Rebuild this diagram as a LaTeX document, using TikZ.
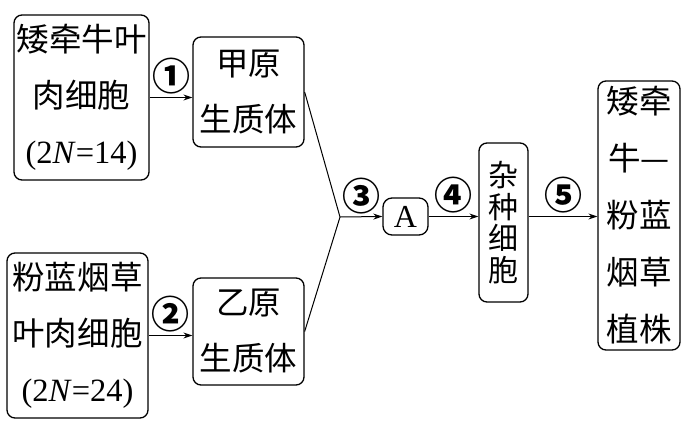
\documentclass[tikz,border=0pt]{standalone}
\usepackage{fontspec}
\setmainfont{Noto Sans CJK SC}
\newfontfamily\latinfont{Liberation Serif}
\usetikzlibrary{arrows.meta, positioning}
\tikzset{
    cellbox/.style={
        rectangle,
        draw=black,
        line width=1.3pt,
        rounded corners=8pt,
        align=center,
        inner sep=0pt,
        fill=white,
        font=\fontsize{32.5}{56}\selectfont
    },
    arrowline/.style={
        draw=black,
        line width=1pt,
        -{Stealth[length=9pt,width=6pt]}
    },
    plainline/.style={
        draw=black,
        line width=1pt
    },
    steplabel/.style={
        font=\fontsize{38}{38}\selectfont\bfseries,
        inner sep=2.5pt
    }
}
\newcommand{\tnr}[1]{{\latinfont #1}}

\begin{document}
\begin{tikzpicture}[x=1pt, y=-1pt]
\useasboundingbox (0,0) rectangle (690,423);

% Left side - leaf cells
\node[cellbox, minimum width=135pt, minimum height=165pt] (dwarfcell) at (81.5,97.5) {矮牵牛叶\\肉细胞\\\tnr{(2\textit{N}=14)}};
\node[cellbox, minimum width=141pt, minimum height=165pt] (tobaccocell) at (77.5,335.5) {粉蓝烟草\\叶肉细胞\\\tnr{(2\textit{N}=24)}};

% Protoplasts
\node[cellbox, minimum width=111pt, minimum height=110pt] (jia) at (248.5,92) {甲原\\生质体};
\node[cellbox, minimum width=111pt, minimum height=107pt] (yi) at (248.5,331.5) {乙原\\生质体};

% Middle - fusion
\coordinate (join) at (340,217);
\node[cellbox, minimum width=45pt, minimum height=37pt, rounded corners=9pt, font=\fontsize{32}{32}\selectfont] (abox) at (405.5,216.5) {\tnr{A}};
\node[cellbox, minimum width=49pt, minimum height=159pt, font=\fontsize{30}{31.5}\selectfont] (hybrid) at (503.5,222.5) {杂\\种\\细\\胞};

% Right side - plant
\node[cellbox, minimum width=82pt, minimum height=269pt, font=\fontsize{32.5}{57}\selectfont] (plant) at (639,215.5) {矮牵\\牛—\\粉蓝\\烟草\\植株};

% Connections
\draw[arrowline] (dwarfcell.east) -- node[steplabel, above] {①} (dwarfcell.east -| jia.west);
\draw[arrowline] (tobaccocell.east) -- node[steplabel, above] {②} (tobaccocell.east -| yi.west);
\draw[plainline] (jia.east) -- (join);
\draw[plainline] (yi.east) -- (join);
\draw[arrowline] (join) -- node[steplabel, above] {③} (abox.west);
\draw[arrowline] (abox.east) -- node[steplabel, above] {④} (abox.east -| hybrid.west);
\draw[arrowline] (hybrid.east |- abox.east) -- node[steplabel, above] {⑤} (abox.east -| plant.west);

\end{tikzpicture}
\end{document}
